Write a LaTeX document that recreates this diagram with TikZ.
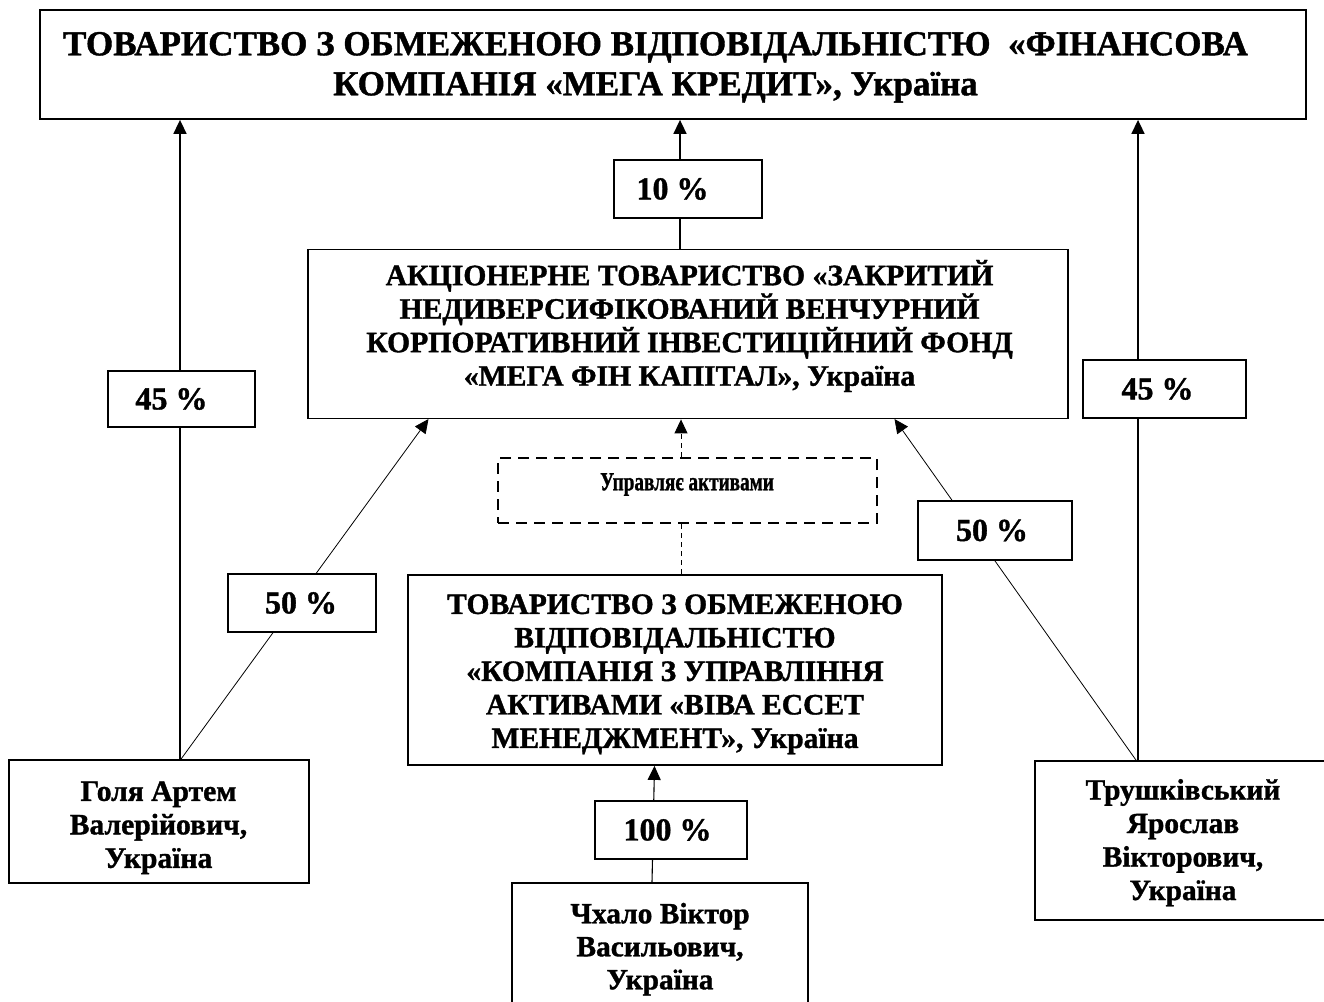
\documentclass[tikz,border=0pt]{standalone}
\usepackage{fontspec}
\usepackage{graphicx}
\setmainfont{Liberation Serif}[BoldFeatures={FakeBold=1.2}]
\usetikzlibrary{arrows.meta,calc}
\begin{document}
\begin{tikzpicture}[x=1pt,y=-1pt,
  frame/.style={draw,line width=1.8pt,fill=white,inner sep=0pt},
  txt/.style={inner sep=0pt,align=center},
  pct/.style={draw,line width=1.8pt,fill=white,inner sep=0pt,font=\bfseries\fontsize{32}{36}\selectfont},
  dbox/.style={draw,line width=2.6pt,dash pattern=on 11pt off 7pt,fill=white,inner sep=0pt},
  tip/.style={-{Triangle[length=14pt,width=13pt]}},
  arr/.style={line width=1.6pt,tip},
  thinarr/.style={line width=0.8pt,tip},
  dasharr/.style={line width=1pt,dash pattern=on 5pt off 4pt,tip},
  dline/.style={line width=1pt,dash pattern=on 5pt off 4pt}
]
\useasboundingbox (0,0) rectangle (1324,1001);
% frames of the main boxes
\node[frame,minimum width=1266pt,minimum height=109pt] (top) at (673,64.5) {};
\node[frame,minimum width=760pt,minimum height=169pt] (at) at (688,334) {};
\node[frame,minimum width=534pt,minimum height=190pt] (kua) at (675,670) {};
\node[dbox,minimum width=379pt,minimum height=65pt] (upr) at (687.5,490.5) {};
\node[frame,minimum width=300pt,minimum height=123pt] (holya) at (159,821.5) {};
\node[frame,minimum width=296pt,minimum height=159pt] (trush) at (1183,840.5) {};
\node[frame,minimum width=296pt,minimum height=130pt] (chkh) at (660,948) {};
% texts of the main boxes
\node[txt,font=\bfseries\fontsize{35}{40}\selectfont] (topT) at (655.5,67.4)
  {ТОВАРИСТВО З ОБМЕЖЕНОЮ ВІДПОВІДАЛЬНІСТЮ \ «ФІНАНСОВА\\КОМПАНІЯ «МЕГА КРЕДИТ», Україна};
\node[txt,font=\bfseries\fontsize{29.7}{33.5}\selectfont] (atT) at (689.5,326)
  {АКЦІОНЕРНЕ ТОВАРИСТВО «ЗАКРИТИЙ\\НЕДИВЕРСИФІКОВАНИЙ ВЕНЧУРНИЙ\\КОРПОРАТИВНИЙ ІНВЕСТИЦІЙНИЙ ФОНД\\«МЕГА ФІН КАПІТАЛ», Україна};
\node[txt,font=\bfseries\fontsize{29.6}{33.5}\selectfont] (kuaT) at (675,674.3)
  {ТОВАРИСТВО З ОБМЕЖЕНОЮ\\ВІДПОВІДАЛЬНІСТЮ\\«КОМПАНІЯ З УПРАВЛІННЯ\\АКТИВАМИ «ВІВА ЕССЕТ\\МЕНЕДЖМЕНТ», Україна};
\node[txt,font=\bfseries\fontsize{26}{30}\selectfont] (uprT) at (687,484.5)
  {\scalebox{0.74}[1]{Управляє активами}};
\node[txt,font=\bfseries\fontsize{29.6}{33.5}\selectfont] (holyaT) at (158.5,827.7)
  {Голя Артем\\Валерійович,\\Україна};
\node[txt,font=\bfseries\fontsize{29.4}{33.5}\selectfont] (trushT) at (1183,842.7)
  {Трушківський\\Ярослав\\Вікторович,\\Україна};
\node[txt,font=\bfseries\fontsize{29.4}{33}\selectfont] (chkhT) at (660,949.2)
  {Чхало Віктор\\Васильович,\\Україна};
% line ends at the owners
\coordinate (hl) at ($(holya.north)+(21,0)$);
\coordinate (tr) at ($(trush.north)+(-45,0)$);
\coordinate (hd) at ($(holya.north)+(22,0)$);
\coordinate (td) at ($(trush.north)+(-47,0)$);
% connectors
\draw[arr] (hl) -- (hl |- top.south);
\draw[arr] (tr) -- (tr |- top.south);
\draw[arr] (at.north -| 680,0) -- (top.south -| 680,0);
\draw[thinarr] (hd) -- (428.5,419);
\draw[thinarr] (td) -- (894.5,419);
\draw[dasharr] (upr.north -| 681,0) -- (at.south -| 681,0);
\draw[dline] (kua.north -| 681,0) -- (upr.south -| 681,0);
\draw[line width=1.1pt,tip] (chkh.north -| 652,0) -- (kua.south -| 654.5,0);
% percentage labels
\node[pct,minimum width=148pt,minimum height=58pt] (p10) at (688,189) {10 \%\hspace*{31pt}};
\node[pct,minimum width=147pt,minimum height=56pt] (p45l) at (181.5,399) {45 \%\hspace*{20pt}};
\node[pct,minimum width=163pt,minimum height=58pt] (p45r) at (1164.5,389) {45 \%\hspace*{14pt}};
\node[pct,minimum width=148pt,minimum height=58pt] (p50l) at (302,603) {50 \%\hspace*{2pt}};
\node[pct,minimum width=154pt,minimum height=59pt] (p50r) at (995,530.5) {50 \%\hspace*{6pt}};
\node[pct,minimum width=152pt,minimum height=58pt] (p100) at (671,830) {100 \%\hspace*{7pt}};
\end{tikzpicture}
\end{document}
